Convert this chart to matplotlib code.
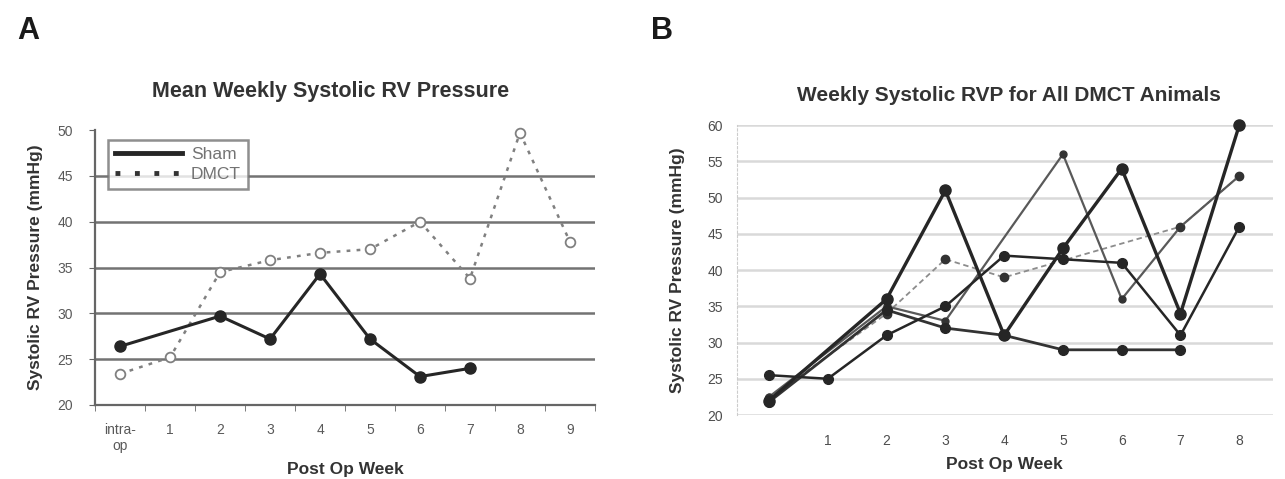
import matplotlib
matplotlib.use("Agg")
import matplotlib.pyplot as plt
import numpy as np

plt.rcParams['font.family'] = ['Liberation Sans', 'DejaVu Sans']

# ---- panel A data ----
weeks_a = ["intra-\nop", "1", "2", "3", "4", "5", "6", "7", "8", "9"]
sham = [26.4, np.nan, 29.7, 27.2, 34.3, 27.2, 23.1, 24.0, np.nan, np.nan]
dmct = [23.4, 25.2, 34.5, 35.8, 36.6, 37.0, 40.0, 33.8, 49.7, 37.8]

# ---- panel B data (individual DMCT animals) ----
weeks_b = [0, 1, 2, 3, 4, 5, 6, 7, 8]
week_b_labels = ["", "1", "2", "3", "4", "5", "6", "7", "8"]
animal1 = [22.0, np.nan, 36.0, 51.0, 31.0, 43.0, 54.0, 34.0, 60.0]
animal2 = [22.5, np.nan, 35.0, 33.0, np.nan, 56.0, 36.0, 46.0, 53.0]
animal3 = [25.5, 25.0, 31.0, 35.0, 42.0, 41.5, 41.0, 31.0, 46.0]
animal4 = [21.8, np.nan, 34.5, 32.0, 31.0, 29.0, 29.0, 29.0, np.nan]
animal5 = [22.3, np.nan, 34.0, 41.5, 39.0, np.nan, np.nan, 46.0, 53.0]


def valid(xs, ys):
    xs = np.asarray(xs, dtype=float)
    ys = np.asarray(ys, dtype=float)
    m = ~np.isnan(ys)
    return xs[m], ys[m]


fig = plt.figure(figsize=(12.85, 4.79), dpi=100)

# ================= Panel A =================
ax = fig.add_axes([0.074, 0.1545, 0.389, 0.574])
xa = np.arange(len(weeks_a))
for yv in [25, 30, 35, 40, 45]:
    ax.axhline(yv, color="0.45", lw=1.8, zorder=1)

x, y = valid(xa, dmct)
ax.plot(x, y, color="0.5", ls=(0, (1.5, 2.5)), lw=1.8, marker="o", ms=7,
        mfc="white", mec="0.5", mew=1.3, zorder=3, clip_on=False)
x, y = valid(xa, sham)
ax.plot(x, y, color="0.15", lw=2.2, marker="o", ms=8, mfc="0.15",
        mec="0.15", zorder=4, clip_on=False)

ax.plot([], [], color="0.15", lw=3.5, label="Sham")
ax.plot([], [], color="0.2", lw=3.5, ls=(0, (1, 3)), label="DMCT")
leg = ax.legend(loc="upper left", bbox_to_anchor=(0.008, 0.995), fontsize=12.5,
                frameon=True, fancybox=False, handlelength=3.9,
                handletextpad=0.5, borderpad=0.4, labelspacing=0.25,
                labelcolor="0.45")
leg.get_frame().set_edgecolor("0.45")
leg.get_frame().set_linewidth(1.8)

ax.set_xlim(-0.5, 9.5)
ax.set_ylim(20, 50)
ax.set_yticks([20, 25, 30, 35, 40, 45, 50])
ax.set_xticks(xa)
ax.set_xticklabels(weeks_a)
ax.set_xticks(np.arange(-0.5, 10, 1), minor=True)
ax.tick_params(axis="x", which="major", length=0, pad=13, labelsize=10,
               labelcolor="0.35")
ax.tick_params(axis="x", which="minor", length=4, color="0.4", direction="out")
ax.tick_params(axis="y", length=4, color="0.4", labelsize=10, labelcolor="0.35",
               pad=12)
for s in ["top", "right"]:
    ax.spines[s].set_visible(False)
for s in ["left", "bottom"]:
    ax.spines[s].set_color("0.4")
    ax.spines[s].set_linewidth(1.6)
ax.set_ylabel("Systolic RV Pressure (mmHg)", fontsize=12.5, fontweight="bold",
              color="0.2", labelpad=10)
ax.set_xlabel("Post Op Week", fontsize=12.5, fontweight="bold", color="0.2",
              labelpad=6)

fig.text(0.257, 0.808, "Mean Weekly Systolic RV Pressure", ha="center",
         va="center", fontsize=15.5, fontweight="bold", color="0.2")
fig.text(0.022, 0.935, "A", ha="center", va="center", fontsize=22,
         fontweight="bold", color="0.1")

# ================= Panel B =================
bx = fig.add_axes([0.5735, 0.1336, 0.417, 0.605])
for yv in [20, 25, 30, 35, 40, 45, 50, 55, 60]:
    bx.axhline(yv, color="0.85", lw=1.8, zorder=1)

x, y = valid(weeks_b, animal5)
bx.plot(x, y, color="0.55", ls=(0, (3, 2)), lw=1.3, marker="o", ms=6,
        mfc="0.2", mec="0.2", zorder=3, clip_on=False)
x, y = valid(weeks_b, animal2)
bx.plot(x, y, color="0.35", lw=1.6, marker="o", ms=5, mfc="0.2",
        mec="0.2", zorder=3, clip_on=False)
x, y = valid(weeks_b, animal4)
bx.plot(x, y, color="0.2", lw=2.0, marker="o", ms=7, mfc="0.15",
        mec="0.15", zorder=4, clip_on=False)
x, y = valid(weeks_b, animal3)
bx.plot(x, y, color="0.15", lw=1.8, marker="o", ms=7, mfc="0.15",
        mec="0.15", zorder=4, clip_on=False)
x, y = valid(weeks_b, animal1)
bx.plot(x, y, color="0.15", lw=2.4, marker="o", ms=8, mfc="0.15",
        mec="0.15", zorder=5, clip_on=False)

bx.set_xlim(-0.545, 8.57)
bx.set_ylim(20, 60)
bx.set_yticks([20, 25, 30, 35, 40, 45, 50, 55, 60])
bx.set_xticks(weeks_b)
bx.set_xticklabels(week_b_labels)
bx.tick_params(axis="x", length=0, pad=14, labelsize=10, labelcolor="0.3")
bx.tick_params(axis="y", length=0, pad=10, labelsize=10, labelcolor="0.3")
for s in ["top", "right"]:
    bx.spines[s].set_visible(False)
bx.spines["left"].set_color("0.8")
bx.spines["left"].set_linestyle((0, (2, 2)))
bx.spines["bottom"].set_visible(False)
bx.set_ylabel("Systolic RV Pressure (mmHg)", fontsize=12.5, fontweight="bold",
              color="0.2", labelpad=16)
bx.set_xlabel("Post Op Week", fontsize=12.5, fontweight="bold", color="0.2",
              labelpad=6)

fig.text(0.785, 0.800, "Weekly Systolic RVP for All DMCT Animals", ha="center",
         va="center", fontsize=15, fontweight="bold", color="0.2")
fig.text(0.515, 0.935, "B", ha="center", va="center", fontsize=22,
         fontweight="bold", color="0.1")

fig.savefig("out.png", dpi=100)
